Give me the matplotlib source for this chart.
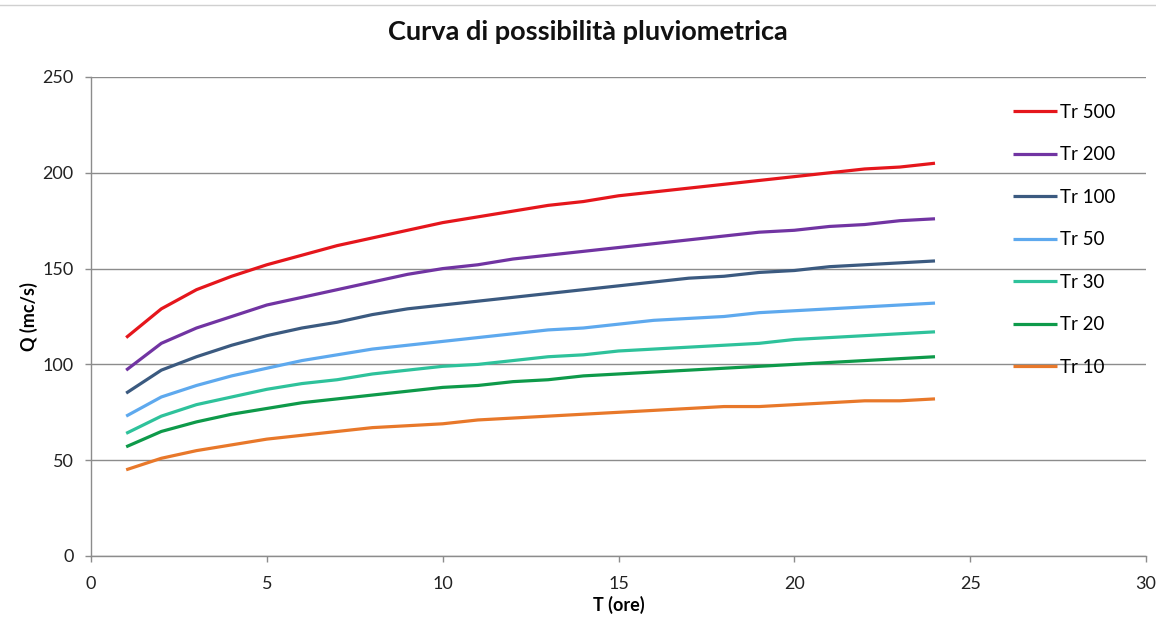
import matplotlib.pyplot as plt
from matplotlib.lines import Line2D

# Durations (hours) and discharge for each return period
T = list(range(1, 25))

tr500 = [114, 129, 139, 146, 152, 157, 162, 166, 170, 174, 177, 180,
         183, 185, 188, 190, 192, 194, 196, 198, 200, 202, 203, 205]
tr200 = [97, 111, 119, 125, 131, 135, 139, 143, 147, 150, 152, 155,
         157, 159, 161, 163, 165, 167, 169, 170, 172, 173, 175, 176]
tr100 = [85, 97, 104, 110, 115, 119, 122, 126, 129, 131, 133, 135,
         137, 139, 141, 143, 145, 146, 148, 149, 151, 152, 153, 154]
tr50 = [73, 83, 89, 94, 98, 102, 105, 108, 110, 112, 114, 116,
        118, 119, 121, 123, 124, 125, 127, 128, 129, 130, 131, 132]
tr30 = [64, 73, 79, 83, 87, 90, 92, 95, 97, 99, 100, 102,
        104, 105, 107, 108, 109, 110, 111, 113, 114, 115, 116, 117]
tr20 = [57, 65, 70, 74, 77, 80, 82, 84, 86, 88, 89, 91,
        92, 94, 95, 96, 97, 98, 99, 100, 101, 102, 103, 104]
tr10 = [45, 51, 55, 58, 61, 63, 65, 67, 68, 69, 71, 72,
        73, 74, 75, 76, 77, 78, 78, 79, 80, 81, 81, 82]

labels = ["Tr 500", "Tr 200", "Tr 100", "Tr 50", "Tr 30", "Tr 20", "Tr 10"]
series = [tr500, tr200, tr100, tr50, tr30, tr20, tr10]
colors = ["#E5161C", "#7134A2", "#3B5A80", "#5EA9EE", "#2EC29B", "#0E9A4A", "#E8782A"]

plt.rcParams['font.family'] = ['Lato', 'DejaVu Sans']

fig = plt.figure(figsize=(11.56, 6.25), dpi=100)
ax = fig.add_axes([91/1156, 1-556/625, (1146-91)/1156, (556-77)/625])

for y, lab, c in zip(series, labels, colors):
    ax.plot(T, y, color=c, lw=2.3, label=lab, solid_capstyle='butt')

ax.set_xlim(0, 30)
ax.set_ylim(0, 250)
ax.set_xticks(range(0, 31, 5))
ax.set_yticks(range(0, 251, 50))
ax.yaxis.grid(True, color='#8c8c8c', lw=1.0)
ax.set_axisbelow(True)
for s in ['top', 'right']:
    ax.spines[s].set_visible(False)
for s in ['left', 'bottom']:
    ax.spines[s].set_color('#8c8c8c')
    ax.spines[s].set_linewidth(1.0)
ax.tick_params(axis='both', colors='#8c8c8c', length=4.5, width=1.0,
               labelcolor='#222222', labelsize=13)
ax.tick_params(axis='y', pad=8)
ax.tick_params(axis='x', pad=10)

ax.set_xlabel("T (ore)", fontsize=13, fontweight='bold', labelpad=3)
ax.set_ylabel("Q (mc/s)", fontsize=13, fontweight='bold', labelpad=3)
fig.text(588/1156, 1-32/625, "Curva di possibilità pluviometrica", ha='center',
         va='center', fontsize=19.5, fontweight='bold', color='#111111')

leg = ax.legend(loc='upper left', bbox_to_anchor=(0.874, 0.944), frameon=False,
                fontsize=13.5, handlelength=2.35, handletextpad=0.15,
                labelspacing=1.36, borderaxespad=0, borderpad=0)

# thin border line along the top of the chart area
fig.add_artist(Line2D([0, 1], [1-5/625, 1-5/625], color='#d0d0d0', lw=1))

fig.savefig("out.png", dpi=100)
